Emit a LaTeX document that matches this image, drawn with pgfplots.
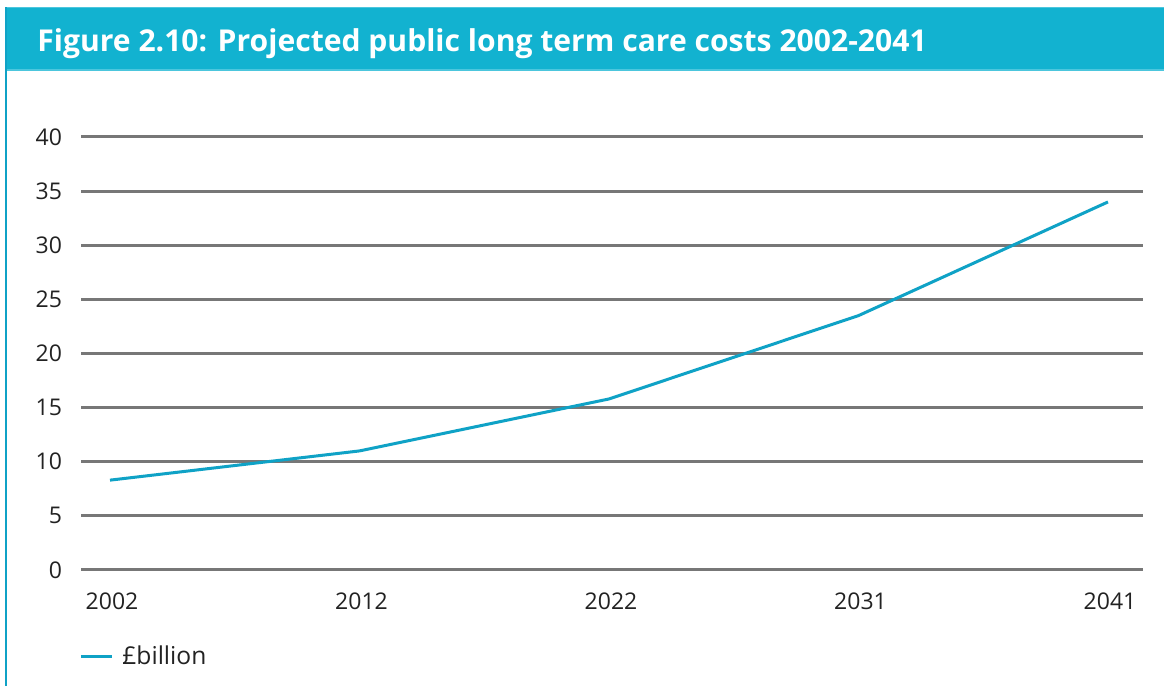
\documentclass[border=0pt]{standalone}
\usepackage{fontspec}
\setmainfont{Open Sans}
\usepackage{pgfplots}
\pgfplotsset{compat=1.18}
\definecolor{barteal}{HTML}{12B2D0}
\definecolor{barlight}{HTML}{4CC6DD}
\definecolor{lineteal}{HTML}{0FA2C6}
\definecolor{gridgray}{HTML}{777777}
\definecolor{txt}{HTML}{222222}
\begin{document}
\begin{tikzpicture}
\useasboundingbox (0,0) rectangle (582pt,343pt);
\fill[white] (0,0) rectangle (582pt,343pt);
% title bar
\fill[barteal] (2.5pt,308pt) rectangle (582pt,339.5pt);
\draw[barlight, line width=0.8pt] (2.5pt,308pt) -- (582pt,308pt);
\draw[barlight, line width=0.8pt] (2.5pt,339.3pt) -- (582pt,339.3pt);
% left border
\draw[lineteal, line width=1pt] (3.2pt,0pt) -- (3.2pt,339.5pt);
\node[anchor=base west, inner sep=0pt, text=white, font=\fontsize{15.05}{18}\selectfont\bfseries] at (18.5pt,317pt) {Figure 2.10: Projected public long term care costs 2002-2041};
\begin{axis}[
  at={(40.5pt,58pt)}, anchor=south west,
  scale only axis, width=531pt, height=216.5pt,
  xmin=-0.1162, xmax=4.1403, ymin=0, ymax=40,
  axis line style={draw=none},
  xtick={0,1,2,3,4}, xticklabels={2002,2012,2022,2031,2041},
  ytick={0,5,10,15,20,25,30,35,40},
  major tick length=0pt,
  ymajorgrids, grid style={gridgray, line width=1.5pt},
  tick label style={font=\fontsize{11.5}{13}\selectfont, text=txt},
  /pgf/number format/assume math mode=true,
  yticklabel style={anchor=east, xshift=-6pt},
  xticklabel style={anchor=north, yshift=-8pt, xshift=1pt},
  clip=false,
  legend style={at={(rel axis cs:0,0)}, anchor=west, yshift=-43.5pt, xshift=-4pt, draw=none, fill=none, font=\fontsize{12.3}{14}\selectfont, text=txt},
  legend image code/.code={\draw[#1] (0pt,0pt) -- (15.5pt,0pt); \path (18pt,0pt);},
]
\addplot[lineteal, line width=1.5pt] coordinates {(0,8.3) (1,11.0) (2,15.8) (3,23.5) (4,34.0)};
\addlegendentry{£billion}
\end{axis}
\end{tikzpicture}
\end{document}
